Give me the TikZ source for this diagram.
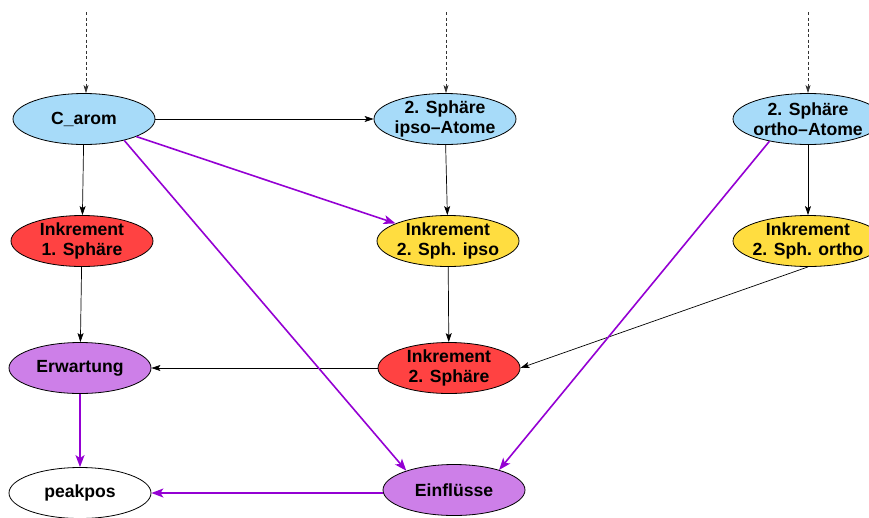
\documentclass[tikz,border=0pt]{standalone}
\usepackage{fontspec}
\setmainfont{Liberation Sans}
\usepackage{tikz}
\usetikzlibrary{shapes.geometric, arrows.meta, positioning}
\definecolor{atomblue}{HTML}{A7DBF9}
\definecolor{inkred}{HTML}{FF4242}
\definecolor{inkgold}{HTML}{FFDD40}
\definecolor{effviolet}{HTML}{CD7FE8}
\definecolor{flowviolet}{HTML}{9400D3}
\tikzset{
  % Ellipse nodes (fixed size, text does not widen them)
  gvnode/.style={
    ellipse, draw=black, fill=#1, line width=0.8pt,
    minimum width=142pt, minimum height=51pt,
    inner xsep=-30pt, inner ysep=-14pt,
    font=\fontsize{17.6}{20.5}\selectfont\bfseries, align=center,
  },
  gvnode/.default={white},
  widenode/.style={gvnode=#1, minimum width=150pt},
  % Arrows
  plainarrow/.style={-{Stealth[length=9pt, width=6pt, inset=2pt]}, line width=0.7pt, black},
  flowarrow/.style={-{Stealth[length=12pt, width=9pt, inset=3pt]}, line width=1.6pt, flowviolet},
  inarrow/.style={-{Stealth[length=8pt, width=5pt, inset=2pt]}, line width=0.7pt,
    black!80, dash pattern=on 3pt off 2.5pt},
}

\begin{document}
\begin{tikzpicture}[x=1pt, y=-1pt]
  \useasboundingbox (0,0) rectangle (869,517);

  % Atom row
  \node[gvnode=atomblue] (carom) at (84,119) {C\_arom};
  \node[gvnode=atomblue] (ipsoatom) at (445,119) {2. Sphäre\\ipso--Atome};
  \node[widenode=atomblue] (orthoatom) at (808,119) {2. Sphäre\\ortho--Atome};

  % Increment row
  \node[gvnode=inkred] (inkone) at (82,241) {Inkrement\\1. Sphäre};
  \node[gvnode=inkgold] (inkipso) at (448,241) {Inkrement\\2. Sph. ipso};
  \node[widenode=inkgold] (inkortho) at (808,241) {Inkrement\\2. Sph. ortho};

  % Sums
  \node[gvnode=effviolet] (erwartung) at (80,368) {Erwartung};
  \node[gvnode=inkred] (inktwo) at (449,368) {Inkrement\\2. Sphäre};

  % Results
  \node[gvnode] (peakpos) at (80,493) {peakpos};
  \node[gvnode=effviolet] (einfl) at (454,490) {Einflüsse};

  % Incoming edges from above
  \coordinate (incarom) at (86,12);
  \coordinate (inipso) at (446,12);
  \coordinate (inortho) at (808,12);
  \draw[inarrow] (incarom) -- (incarom |- carom.north);
  \draw[inarrow] (inipso) -- (inipso |- ipsoatom.north);
  \draw[inarrow] (inortho) -- (orthoatom);

  % Black edges
  \draw[plainarrow] (carom) -- (ipsoatom);
  \draw[plainarrow] (carom) -- (inkone);
  \draw[plainarrow] (ipsoatom) -- (inkipso);
  \draw[plainarrow] (orthoatom) -- (inkortho);
  \draw[plainarrow] (inkone) -- (erwartung);
  \draw[plainarrow] (inkipso) -- (inktwo);
  \draw[plainarrow] (inkortho.south) -- (inktwo.east);
  \draw[plainarrow] (inktwo) -- (erwartung);

  % Violet edges
  \draw[flowarrow] (carom) -- (inkipso);
  \draw[flowarrow] (carom.-28) -- (einfl.158);
  \draw[flowarrow] (orthoatom.-150) -- (einfl.24);
  \draw[flowarrow] (erwartung) -- (peakpos);
  \draw[flowarrow] (einfl.west |- peakpos) -- (peakpos);

\end{tikzpicture}
\end{document}
